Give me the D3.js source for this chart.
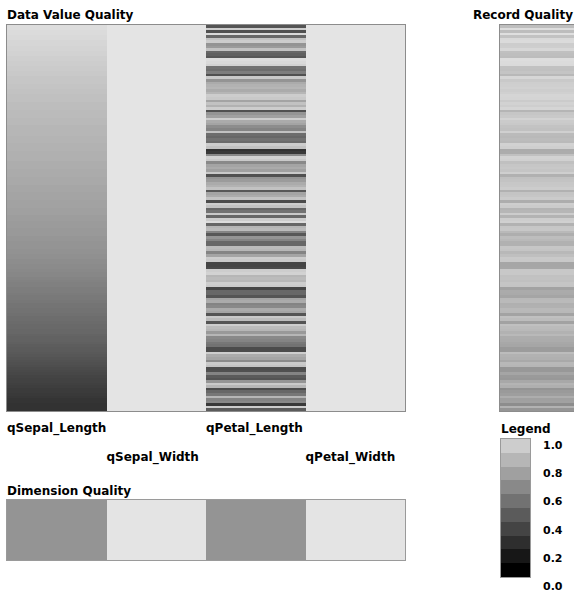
<!DOCTYPE html>
<html><head><meta charset="utf-8">
<script src="https://cdn.jsdelivr.net/npm/d3@7"></script>
<style>
html,body{margin:0;padding:0;background:#fff;overflow:hidden}
text{font-family:"DejaVu Sans",sans-serif;font-weight:bold;fill:#000}
</style></head>
<body><svg id="c" width="574" height="593"></svg>
<script>
const columns = ["qSepal_Length","qSepal_Width","qPetal_Length","qPetal_Width"];
const qSepalLength = [
0.97,0.97,0.96,0.96,0.95,0.95,0.94,0.94,0.93,0.93,
0.92,0.92,0.91,0.91,0.90,0.90,0.89,0.89,0.88,0.88,
0.87,0.87,0.87,0.86,0.86,0.85,0.85,0.84,0.84,0.84,
0.83,0.83,0.83,0.82,0.82,0.82,0.81,0.81,0.81,0.80,
0.80,0.80,0.80,0.79,0.79,0.79,0.78,0.78,0.78,0.77,
0.77,0.77,0.77,0.76,0.76,0.76,0.75,0.75,0.75,0.74,
0.74,0.74,0.73,0.73,0.73,0.72,0.72,0.72,0.71,0.71,
0.71,0.70,0.70,0.70,0.69,0.69,0.68,0.68,0.68,0.67,
0.67,0.67,0.66,0.66,0.65,0.65,0.65,0.64,0.64,0.63,
0.63,0.62,0.62,0.61,0.61,0.60,0.59,0.59,0.58,0.57,
0.56,0.56,0.55,0.55,0.54,0.53,0.53,0.52,0.51,0.51,
0.50,0.50,0.49,0.48,0.48,0.47,0.46,0.46,0.45,0.45,
0.44,0.43,0.43,0.42,0.41,0.40,0.40,0.39,0.38,0.37,
0.36,0.35,0.34,0.33,0.32,0.31,0.30,0.29,0.29,0.28,
0.27,0.26,0.26,0.25,0.24,0.23,0.23,0.22,0.22,0.22];
const qSepalWidth = [
1,1,1,1,1,1,1,1,1,1, 1,1,1,1,1,1,1,1,1,1, 1,1,1,1,1,1,1,1,1,1,
1,1,1,1,1,1,1,1,1,1, 1,1,1,1,1,1,1,1,1,1, 1,1,1,1,1,1,1,1,1,1,
1,1,1,1,1,1,1,1,1,1, 1,1,1,1,1,1,1,1,1,1, 1,1,1,1,1,1,1,1,1,1,
1,1,1,1,1,1,1,1,1,1, 1,1,1,1,1,1,1,1,1,1, 1,1,1,1,1,1,1,1,1,1,
1,1,1,1,1,1,1,1,1,1, 1,1,1,1,1,1,1,1,1,1, 1,1,1,1,1,1,1,1,1,1];
const qPetalLength = [
0.37,0.90,0.35,0.95,0.45,0.85,0.90,0.65,0.68,0.85,
0.45,0.42,0.38,0.97,0.95,0.92,0.50,0.48,0.55,0.35,
0.88,0.65,0.75,0.78,0.80,0.75,0.80,0.90,0.88,0.72,
0.85,0.78,0.90,0.35,0.65,0.70,0.90,0.75,0.72,0.62,
0.58,0.85,0.48,0.45,0.50,0.47,0.90,0.85,0.22,0.25,
0.60,0.92,0.88,0.60,0.72,0.75,0.70,0.88,0.35,0.65,
0.68,0.75,0.78,0.85,0.38,0.72,0.75,0.85,0.33,0.90,
0.85,0.45,0.50,0.88,0.45,0.90,0.97,0.45,0.80,0.82,
0.58,0.38,0.65,0.58,0.45,0.45,0.82,0.80,0.58,0.72,
0.90,0.88,0.30,0.30,0.32,0.90,0.92,0.80,0.82,0.80,
0.90,0.88,0.30,0.45,0.45,0.37,0.72,0.75,0.58,0.60,
0.75,0.72,0.37,0.88,0.82,0.37,0.90,0.82,0.80,0.67,
0.80,0.60,0.58,0.52,0.50,0.33,0.33,0.90,0.75,0.72,
0.60,0.88,0.85,0.33,0.35,0.58,0.40,0.37,0.65,0.88,
0.80,0.33,0.45,0.52,0.80,0.58,0.60,0.25,0.90,0.40];
const qPetalWidth = [
1,1,1,1,1,1,1,1,1,1, 1,1,1,1,1,1,1,1,1,1, 1,1,1,1,1,1,1,1,1,1,
1,1,1,1,1,1,1,1,1,1, 1,1,1,1,1,1,1,1,1,1, 1,1,1,1,1,1,1,1,1,1,
1,1,1,1,1,1,1,1,1,1, 1,1,1,1,1,1,1,1,1,1, 1,1,1,1,1,1,1,1,1,1,
1,1,1,1,1,1,1,1,1,1, 1,1,1,1,1,1,1,1,1,1, 1,1,1,1,1,1,1,1,1,1,
1,1,1,1,1,1,1,1,1,1, 1,1,1,1,1,1,1,1,1,1, 1,1,1,1,1,1,1,1,1,1];
const dimensionQuality = [0.65, 1.0, 0.65, 1.0];
const legendTicks = ["1.0","0.8","0.6","0.4","0.2","0.0"];
const legendSteps = [0.9,0.8,0.7,0.6,0.5,0.4,0.3,0.2,0.1,0.0];

const series = [qSepalLength, qSepalWidth, qPetalLength, qPetalWidth];
const nRows = qSepalLength.length;
// record quality = mean quality of the row across the four dimensions
const recordQuality = d3.range(nRows).map(i => d3.mean(series, s => s[i]));

const svg = d3.select("#c");
const gray = d3.scaleLinear().domain([0,1]).range([0,228]);
const col = v => { const g = Math.round(gray(v)); return `rgb(${g},${g},${g})`; };

const x = d3.scaleBand().domain(columns).range([7,405]);
const y = d3.scaleBand().domain(d3.range(nRows)).range([25,411]);

// titles
svg.append("text").attr("x",7).attr("y",19).style("font-size","12px").text("Data Value Quality");
svg.append("text").attr("x",573).attr("y",19).attr("text-anchor","end").style("font-size","12px").text("Record Quality");

// heatmap
const cells = [];
columns.forEach((c,ci) => series[ci].forEach((v,ri) => cells.push({c, ri, v})));
svg.append("g").selectAll("rect").data(cells).join("rect")
  .attr("x", d => x(d.c)).attr("y", d => y(d.ri))
  .attr("width", x.bandwidth()).attr("height", y.bandwidth())
  .attr("fill", d => col(d.v)).attr("shape-rendering","crispEdges");
svg.append("rect").attr("x",6.5).attr("y",24.5).attr("width",399).attr("height",387)
  .attr("fill","none").attr("stroke","#8c8c8c");

// record quality
const xr = d3.scaleBand().domain(["rq"]).range([500,600]);
svg.append("g").selectAll("rect").data(recordQuality).join("rect")
  .attr("x", xr("rq")).attr("y", (d,i) => y(i))
  .attr("width", xr.bandwidth()).attr("height", y.bandwidth())
  .attr("fill", d => col(d)).attr("shape-rendering","crispEdges");
svg.append("rect").attr("x",499.5).attr("y",24.5).attr("width",100).attr("height",387)
  .attr("fill","none").attr("stroke","#8c8c8c");

// column labels
svg.append("g").selectAll("text").data(columns).join("text")
  .attr("x", d => x(d)).attr("y", (d,i) => i % 2 === 0 ? 432 : 461)
  .style("font-size","12px").text(d => d);

// dimension quality
svg.append("text").attr("x",7).attr("y",495).style("font-size","12px").text("Dimension Quality");
svg.append("g").selectAll("rect").data(dimensionQuality).join("rect")
  .attr("x", (d,i) => x(columns[i])).attr("y",500)
  .attr("width", x.bandwidth()).attr("height",60)
  .attr("fill", d => col(d)).attr("shape-rendering","crispEdges");
svg.append("rect").attr("x",6.5).attr("y",499.5).attr("width",399).attr("height",61)
  .attr("fill","none").attr("stroke","#9a9a9a");

// legend
svg.append("text").attr("x",501).attr("y",433).style("font-size","12px").text("Legend");
const ly = d3.scaleBand().domain(legendSteps).range([439,577]);
svg.append("g").selectAll("rect").data(legendSteps).join("rect")
  .attr("x",501).attr("y", d => ly(d)).attr("width",29).attr("height", ly.bandwidth())
  .attr("fill", d => col(d)).attr("shape-rendering","crispEdges");
svg.append("rect").attr("x",500.5).attr("y",438.5).attr("width",30).attr("height",139)
  .attr("fill","none").attr("stroke","#9a9a9a");
const lt = d3.scaleLinear().domain([1,0]).range([449,590]);
svg.append("g").selectAll("text").data(legendTicks).join("text")
  .attr("x",543).attr("y", d => lt(+d)).style("font-size","11px").text(d => d);
</script>
</body></html>
